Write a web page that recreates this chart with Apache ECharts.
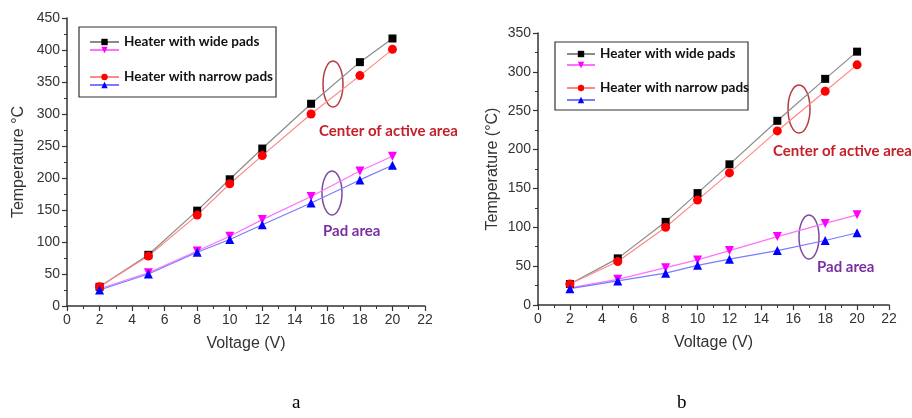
<!DOCTYPE html>
<html>
<head>
<meta charset="utf-8">
<script src="https://cdn.jsdelivr.net/npm/echarts@6/dist/echarts.min.js"></script>
<style>
  html, body { margin: 0; padding: 0; background: #fff; }
  #chart { width: 912px; height: 418px; }
</style>
</head>
<body>
<div id="chart"></div>
<script>
// Supply voltage (V) for every measurement point
const voltage = [2, 5, 8, 10, 12, 15, 18, 20];

// Panel a: temperatures (°C)
const aWideCenter   = [30, 80, 149, 198, 246, 316, 381, 418];
const aNarrowCenter = [30, 78, 142, 191, 235, 300, 360, 401];
const aWidePad      = [27, 52, 86, 109, 135, 171, 211, 234];
const aNarrowPad    = [25, 50, 84, 104, 127, 161, 197, 220];

// Panel b: temperatures (°C)
const bWideCenter   = [27, 60, 107, 144, 181, 237, 291, 326];
const bNarrowCenter = [27, 56, 100, 135, 170, 224, 275, 309];
const bWidePad      = [22, 33, 48, 58, 70, 88, 105, 116];
const bNarrowPad    = [21, 31, 41, 51, 59, 70, 83, 93];

// Legend labels
const nameWide = 'Heater with wide pads';
const nameNarrow = 'Heater with narrow pads';
const nameWidePad = 'wide pads, pad area';
const nameNarrowPad = 'narrow pads, pad area';

const pairs = (ys) => voltage.map((v, i) => [v, ys[i]]);

const axisFont = { fontFamily: 'Liberation Sans', fontSize: 14, color: '#333' };
const axisLine = { lineStyle: { color: '#333', width: 1.5 } };

function xAxis(gridIndex) {
  return {
    gridIndex, type: 'value', min: 0, max: 22, interval: 2,
    name: 'Voltage (V)', nameLocation: 'middle', nameGap: 30,
    nameTextStyle: { fontFamily: 'Liberation Sans', fontSize: 16, color: '#333' },
    axisLine, axisTick: { show: true, length: 5, lineStyle: { color: '#333', width: 1.2 } },
    minorTick: { show: true, splitNumber: 2, length: 3, lineStyle: { color: '#333' } },
    splitLine: { show: false },
    axisLabel: Object.assign({ margin: 7 }, axisFont)
  };
}
function yAxis(gridIndex, max, name, gap) {
  return {
    gridIndex, type: 'value', min: 0, max, interval: 50,
    name, nameLocation: 'middle', nameGap: gap,
    nameTextStyle: { fontFamily: 'Liberation Sans', fontSize: 16, color: '#333' },
    axisLine: Object.assign({ show: true }, axisLine),
    axisTick: { show: true, length: 5, lineStyle: { color: '#333', width: 1.2 } },
    minorTick: { show: true, splitNumber: 2, length: 3, lineStyle: { color: '#333' } },
    splitLine: { show: false },
    axisLabel: Object.assign({ margin: 7 }, axisFont)
  };
}

function series(name, idx, data, lineColor, markColor, symbol, rotate) {
  return {
    name, type: 'line', xAxisIndex: idx, yAxisIndex: idx, data: pairs(data),
    symbol, symbolRotate: rotate || 0, symbolSize: symbol === 'rect' ? 8 : 9,
    showAllSymbol: true,
    lineStyle: { color: lineColor, width: 1.2 },
    itemStyle: { color: markColor },
    animation: false
  };
}

function legendItem(name, left, top, w, showText) {
  return {
    data: [name], left, top, padding: 0, itemWidth: w, itemHeight: 8,
    selectedMode: false,
    formatter: showText ? '{name}' : ' ',
    textStyle: { fontFamily: 'Lato', fontWeight: 'bold', fontSize: 13.5, color: '#111' }
  };
}

const redText = '#c4202a';
const purpleText = '#7a2fa0';
function note(x, y, text, color) {
  return { type: 'text', left: x, top: y, style: { text, fill: color, font: 'bold 15px Lato' } };
}
function ring(cx, cy, rx, ry, color) {
  return { type: 'ellipse', shape: { cx, cy, rx, ry }, style: { fill: 'none', stroke: color, lineWidth: 1.5 } };
}

const option = {
  backgroundColor: '#fff',
  animation: false,
  grid: [
    { left: 67, top: 18, width: 358, height: 288 },
    { left: 538, top: 33, width: 351, height: 272 }
  ],
  xAxis: [xAxis(0), xAxis(1)],
  yAxis: [yAxis(0, 450, 'Temperature °C', 40), yAxis(1, 350, 'Temperature (°C)', 37)],
  legend: [
    legendItem(nameWide, 89, 35, 29, true),
    legendItem(nameWidePad, 89, 43, 29, false),
    legendItem(nameNarrow, 89, 70, 29, true),
    legendItem(nameNarrowPad, 89, 78, 29, false),
    legendItem(nameWide, 566, 47, 28, true),
    legendItem(nameWidePad, 566, 58, 28, false),
    legendItem(nameNarrow, 566, 81, 28, true),
    legendItem(nameNarrowPad, 566, 93, 28, false)
  ],
  series: [
    series(nameWide, 0, aWideCenter, '#8a8a8a', '#000', 'rect'),
    series(nameWidePad, 0, aWidePad, '#ff70ff', '#ff00ff', 'triangle', 180),
    series(nameNarrow, 0, aNarrowCenter, '#ff8888', '#ff0000', 'circle'),
    series(nameNarrowPad, 0, aNarrowPad, '#7a7aff', '#0000ff', 'triangle'),
    series(nameWide, 1, bWideCenter, '#8a8a8a', '#000', 'rect'),
    series(nameWidePad, 1, bWidePad, '#ff70ff', '#ff00ff', 'triangle', 180),
    series(nameNarrow, 1, bNarrowCenter, '#ff8888', '#ff0000', 'circle'),
    series(nameNarrowPad, 1, bNarrowPad, '#7a7aff', '#0000ff', 'triangle')
  ],
  graphic: [
    // legend frames
    { type: 'rect', shape: { x: 79, y: 27, width: 197, height: 70 }, style: { fill: 'none', stroke: '#333', lineWidth: 1.2 }, z: 0 },
    { type: 'rect', shape: { x: 555, y: 42, width: 193, height: 68 }, style: { fill: 'none', stroke: '#333', lineWidth: 1.2 }, z: 0 },
    // region annotations, panel a
    ring(333, 84, 10, 23, '#b83a3e'),
    note(319, 124, 'Center of active area', redText),
    ring(332, 193, 10, 22, '#7b4a9c'),
    note(323, 224, 'Pad area', purpleText),
    // region annotations, panel b
    ring(799, 109, 11, 24, '#b83a3e'),
    note(773, 144, 'Center of active area', redText),
    ring(809, 237, 10, 22, '#7b4a9c'),
    note(817, 260, 'Pad area', purpleText),
    // panel captions
    { type: 'text', left: 292, top: 394, style: { text: 'a', fill: '#000', font: '19px "Liberation Serif"' } },
    { type: 'text', left: 677, top: 394, style: { text: 'b', fill: '#000', font: '19px "Liberation Serif"' } }
  ]
};

const chart = echarts.init(document.getElementById('chart'), null, { renderer: 'canvas' });
chart.setOption(option);
</script>
</body>
</html>
